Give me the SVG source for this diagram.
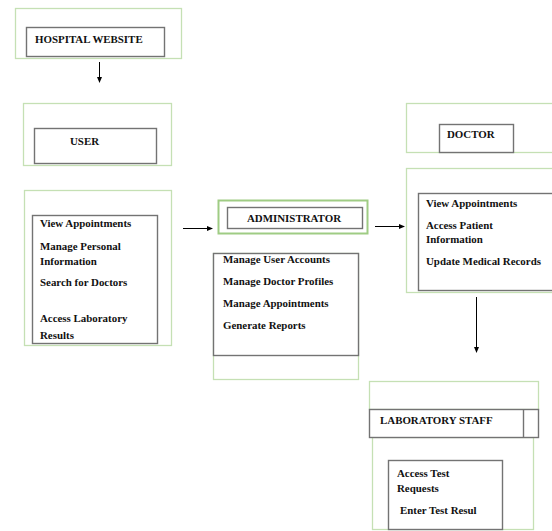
<svg xmlns="http://www.w3.org/2000/svg" width="552" height="531" viewBox="0 0 552 531">
<style>
.g{fill:none;stroke:#c5e0b4;stroke-width:1.3}
.gt{fill:none;stroke:#9fcc84;stroke-width:2}
.b{fill:#fff;stroke:#737373;stroke-width:1.4}
.t{font-family:"Liberation Serif","Times New Roman",serif;font-weight:bold;font-size:10.9px;fill:#111}
.c{stroke:#000;stroke-width:1;fill:none}
</style>
<defs>
<marker id="ah" markerWidth="6" markerHeight="6" refX="5" refY="3" orient="auto" markerUnits="userSpaceOnUse">
<path d="M0,0.5 L6,3 L0,5.5 z" fill="#000"/>
</marker>
</defs>
<rect width="552" height="531" fill="#fff"/>
<g id="hospital">
<rect class="g" x="15.5" y="8.5" width="166" height="50"/>
<rect class="b" x="26.5" y="27.5" width="138" height="29"/>
<text class="t" x="35" y="43">HOSPITAL WEBSITE</text>
</g>
<g id="user">
<rect class="g" x="23.5" y="103.5" width="148" height="62"/>
<rect class="b" x="34.5" y="128.5" width="122" height="35"/>
<text class="t" x="70" y="145">USER</text>
</g>
<g id="user-list">
<rect class="g" x="24.5" y="190.5" width="147" height="155"/>
<rect class="b" x="32.5" y="215.5" width="125" height="128"/>
<text class="t" x="40" y="227">View Appointments</text>
<text class="t" x="40" y="250">Manage Personal</text>
<text class="t" x="40" y="265">Information</text>
<text class="t" x="40" y="286">Search for Doctors</text>
<text class="t" x="40" y="322">Access Laboratory</text>
<text class="t" x="40" y="339">Results</text>
</g>
<g id="administrator">
<rect class="gt" x="218.5" y="200.5" width="149" height="33"/>
<rect class="b" x="227.5" y="207.5" width="135" height="21"/>
<text class="t" x="294" y="222" text-anchor="middle">ADMINISTRATOR</text>
</g>
<g id="admin-list">
<rect class="g" x="213.5" y="253.5" width="145" height="126"/>
<rect class="b" x="213.5" y="253.5" width="145" height="102"/>
<text class="t" x="223" y="263">Manage User Accounts</text>
<text class="t" x="223" y="285">Manage Doctor Profiles</text>
<text class="t" x="223" y="307">Manage Appointments</text>
<text class="t" x="223" y="329">Generate Reports</text>
</g>
<g id="doctor">
<rect class="g" x="406.5" y="103.5" width="150" height="49"/>
<rect class="b" x="439.5" y="124.5" width="74" height="28"/>
<text class="t" x="447" y="138">DOCTOR</text>
</g>
<g id="doctor-list">
<rect class="g" x="406.5" y="168.5" width="150" height="124"/>
<rect class="b" x="418.5" y="193.5" width="140" height="97"/>
<text class="t" x="426" y="207">View Appointments</text>
<text class="t" x="426" y="229">Access Patient</text>
<text class="t" x="426" y="243">Information</text>
<text class="t" x="426" y="265">Update Medical Records</text>
</g>
<g id="laboratory-staff">
<rect class="g" x="369.5" y="381.5" width="169" height="28"/>
<rect class="g" x="372.5" y="437.5" width="161" height="92"/>
<rect class="b" x="369.5" y="409.5" width="169" height="28"/>
<line x1="523.5" y1="409.5" x2="523.5" y2="437.5" stroke="#737373" stroke-width="1.4"/>
<text class="t" x="380" y="424">LABORATORY STAFF</text>
<rect class="b" x="388.5" y="460.5" width="114" height="69"/>
<text class="t" x="397" y="477">Access Test</text>
<text class="t" x="397" y="492">Requests</text>
<text class="t" x="400" y="514">Enter Test Resul</text>
</g>
<g id="connectors">
<line class="c" x1="99.5" y1="62" x2="99.5" y2="82" marker-end="url(#ah)"/>
<line class="c" x1="183" y1="228.5" x2="212" y2="228.5" marker-end="url(#ah)"/>
<line class="c" x1="375" y1="226.5" x2="404" y2="226.5" marker-end="url(#ah)"/>
<line class="c" x1="476.5" y1="297" x2="476.5" y2="352" marker-end="url(#ah)"/>
</g>
</svg>
